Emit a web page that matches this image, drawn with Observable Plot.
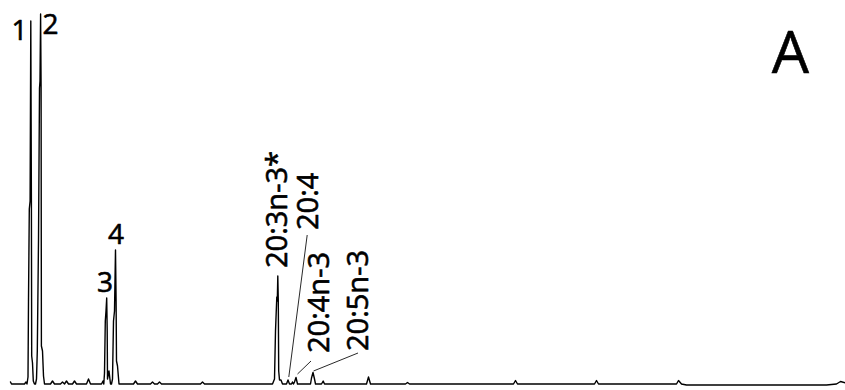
<!DOCTYPE html>
<html><head><meta charset="utf-8">
<script src="https://cdn.jsdelivr.net/npm/d3@7"></script>
<script src="https://cdn.jsdelivr.net/npm/@observablehq/plot@0.6"></script>
<style>body{margin:0;background:#fff}</style>
</head><body><div id="chart"></div>
<script>
// Chromatogram trace (retention time in min, detector signal in arbitrary units)
const retentionTime = [0, 0.1, 1.4, 1.55, 1.65, 1.75, 1.8, 1.88, 1.96, 2.03, 2.09, 2.12, 2.2, 2.28, 2.4,
  2.5, 2.6, 2.68, 2.8, 2.9, 2.95, 3.01, 3.06, 3.09, 3.2, 3.3, 3.4,
  4.0, 4.2, 4.4, 5.0, 5.2, 5.4, 5.6, 5.8, 6.2, 6.4, 6.6, 7.6, 7.8, 8.0,
  9.1, 9.25, 9.33, 9.4, 9.48, 9.55, 9.62, 9.67, 9.7, 9.85, 10.0,
  10.1, 10.2, 10.3, 10.4, 10.5, 10.56, 10.6, 10.7, 10.85,
  12.3, 12.5, 12.7, 14.0, 14.2, 14.4, 14.7, 14.9, 15.1, 19.0, 19.2, 19.4,
  26.2, 26.4, 26.5, 26.63, 26.68, 26.73, 26.78, 26.82, 26.9, 27.05, 27.2,
  27.6, 27.75, 27.9, 28.1, 28.2, 28.3, 28.4, 28.55, 28.7,
  30.0, 30.1, 30.25, 30.4, 30.5, 31.1, 31.27, 31.4, 35.6, 35.8, 36.0,
  39.5, 39.7, 39.9, 50.3, 50.5, 50.7, 58.4, 58.6, 58.8, 66.6, 66.8, 67.1,
  67.6, 81.6, 82.6, 83.0, 83.5];
const signal = [2, 0, 0, 2, 0, 7, 83, 175, 183, 363, 183, 28, 21, 3, 0,
  0, 5, 33, 143, 296, 303, 370, 296, 38, 33, 8, 0,
  0, 3, 0, 0, 2, 0, 3, 0, 0, 3, 0, 0, 5, 0,
  0, 3, 0, 11, 63, 73, 86, 53, 5, 13, 0,
  0, 5, 63, 73, 134, 83, 23, 18, 0,
  0, 3, 0, 0, 2, 0, 0, 2, 0, 0, 2, 0,
  0, 5, 53, 87, 83, 108, 83, 13, 4, 4, 0,
  0, 4, 0, 0, 2, 0, 2, 6.5, 0,
  0, 6, 11.5, 5, 0, 0, 3, 0, 0, 7, 0,
  0, 1.5, 0, 0, 3.5, 0, 0, 3.5, 0, 0, 3.5, 0,
  -1, -1, 0, 2.5, 1];

// Peak number labels
const peakNames = ["1", "2", "3", "4"];
const peakNameRt = [0.9, 4.0, 9.45, 10.55];
const peakNameSignal = [344, 350, 92, 140];

// Fatty-acid labels (rotated)
const faNames = ["20:3n-3*", "20:4", "20:4n-3", "20:5n-3"];
const faRt = [27.6, 30.7, 31.8, 35.7];
const faSignal = [116, 154, 31, 33];

// Leader lines: label end -> peak
const leaderRtFrom = [29.67, 30.05, 34.75];
const leaderSigFrom = [149, 23, 31];
const leaderRtTo = [27.83, 28.7, 30.3];
const leaderSigTo = [7, 10, 13];

const panelLabel = ["A"];
const panelRt = [78.0];
const panelSignal = [311];

const trace = retentionTime.map((t, i) => ({t, s: signal[i]}));
const peaks = peakNames.map((n, i) => ({n, t: peakNameRt[i], s: peakNameSignal[i]}));
const fas = faNames.map((n, i) => ({n, t: faRt[i], s: faSignal[i]}));
const leaders = leaderRtFrom.map((t, i) => ({t1: t, s1: leaderSigFrom[i], t2: leaderRtTo[i], s2: leaderSigTo[i]}));
const panel = panelLabel.map((n, i) => ({n, t: panelRt[i], s: panelSignal[i]}));

const textStyle = {fill: "#000", stroke: "#000", strokeWidth: 0.6};

const chart = Plot.plot({
  width: 845, height: 390,
  marginLeft: 10, marginRight: 0, marginTop: 13.5, marginBottom: 6.5,
  x: {domain: [0, 83.5], axis: null},
  y: {domain: [0, 370], axis: null},
  style: {fontFamily: "'Open Sans', sans-serif", background: "white", color: "#000"},
  marks: [
    Plot.line(trace, {x: "t", y: "s", stroke: "#000", strokeWidth: 1.4}),
    Plot.link(leaders, {x1: "t1", y1: "s1", x2: "t2", y2: "s2", stroke: "#111", strokeWidth: 0.9}),
    Plot.text(peaks, {x: "t", y: "s", text: "n", fontSize: 28, textAnchor: "middle", lineAnchor: "bottom", ...textStyle}),
    Plot.text(fas, {x: "t", y: "s", text: "n", fontSize: 29, rotate: -90, textAnchor: "start", lineAnchor: "bottom", ...textStyle}),
    Plot.text(panel, {x: "t", y: "s", text: "n", fontSize: 59, textAnchor: "middle", lineAnchor: "bottom", ...textStyle})
  ]
});
document.getElementById("chart").appendChild(chart);
</script>
</body></html>
